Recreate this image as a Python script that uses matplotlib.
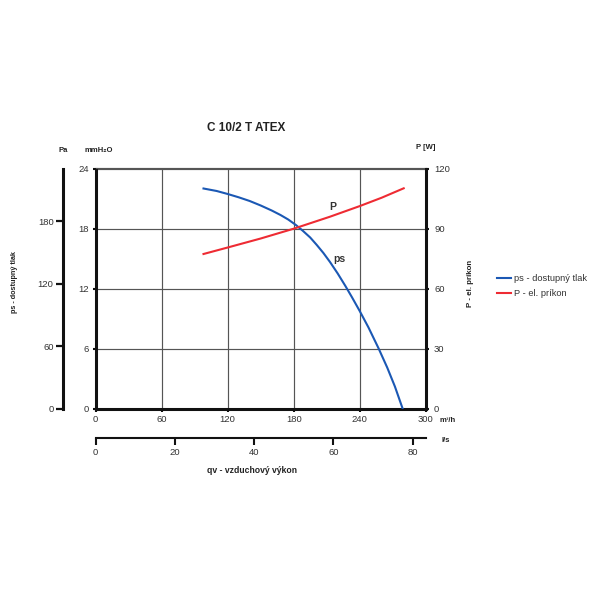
import matplotlib
matplotlib.use("Agg")
import matplotlib.pyplot as plt

plt.rcParams['font.family'] = ['Liberation Sans', 'DejaVu Sans']

# ---- data ----
q_ps = [98, 110, 120, 130, 140, 150, 160, 168, 175, 182, 188, 195, 201, 207,
        213, 220, 227, 233, 240, 248, 257, 265, 272, 279]                        # m3/h
ps_mm = [22.0, 21.75, 21.45, 21.12, 20.75, 20.3, 19.8, 19.35, 18.9, 18.35, 17.8,
         17.1, 16.35, 15.55, 14.65, 13.5, 12.25, 11.12, 9.75, 8.1, 6.05, 4.1, 2.2, 0.0]  # mmH2O
q_p = [98, 120, 150, 180, 213, 240, 260, 280]                                    # m3/h
p_w = [77.25, 80.5, 85.0, 89.9, 95.9, 101.2, 105.4, 110.1]                       # W

x_ticks = [0, 60, 120, 180, 240, 300]
y_ticks = [0, 6, 12, 18, 24]
p_ticks = [0, 30, 60, 90, 120]
pa_ticks = [0, 60, 120, 180]
ls_ticks = [0, 20, 40, 60, 80]

title = "C 10/2 T ATEX"
legend_labels = ["ps - dostupný tlak", "P - el. príkon"]

BLUE = "#1b58b4"
RED = "#ee2b33"
TXT = "#333333"
GRID = "#555555"
TS = 6.8

fig = plt.figure(figsize=(6, 6), dpi=100)
fig.patch.set_facecolor("white")

ax = fig.add_axes([95.7 / 600, 1 - 408.5 / 600, 330 / 600, 240 / 600])
ax.set_xlim(0, 300)
ax.set_ylim(0, 24)
ax.set_xticks(x_ticks)
ax.set_yticks(y_ticks)
ax.grid(True, color=GRID, lw=0.85)
ax.set_axisbelow(True)
for s in ("left", "bottom"):
    ax.spines[s].set_linewidth(2.2)
    ax.spines[s].set_color("#111111")
ax.spines["top"].set_linewidth(0.85)
ax.spines["top"].set_color(GRID)
ax.spines["right"].set_visible(False)
ax.tick_params(labelsize=TS, colors="#111111", labelcolor=TXT, length=2, width=1.5, pad=3)

l1, = ax.plot(q_ps, ps_mm, color=BLUE, lw=1.5, zorder=3, solid_joinstyle="round")

ax2 = ax.twinx()
ax2.set_ylim(0, 120)
ax2.set_yticks(p_ticks)
for s in ("left", "bottom", "top"):
    ax2.spines[s].set_visible(False)
ax2.spines["right"].set_linewidth(2.2)
ax2.spines["right"].set_color("#111111")
ax2.tick_params(labelsize=TS, colors="#111111", labelcolor=TXT, length=2, width=1.5, pad=4)
l2, = ax2.plot(q_p, p_w, color=RED, lw=1.5, zorder=3, solid_joinstyle="round")

# Pa axis (secondary, left)
PA_TOP = 231.0
pa = ax.secondary_yaxis(-0.098, functions=(lambda y: y * PA_TOP / 24.0,
                                           lambda p: p * 24.0 / PA_TOP))
pa.set_yticks(pa_ticks)
pa.spines["left"].set_linewidth(2.2)
pa.spines["left"].set_color("#111111")
pa.tick_params(labelsize=TS, colors="#111111", labelcolor=TXT, length=5, width=1.6, pad=2)

# l/s axis (secondary, bottom)
ls = ax.secondary_xaxis(-0.123, functions=(lambda q: q / 3.6, lambda l: l * 3.6))
ls.set_xticks(ls_ticks)
ls.spines["bottom"].set_linewidth(1.5)
ls.spines["bottom"].set_color("#111111")
ls.tick_params(labelsize=TS, colors="#111111", labelcolor=TXT, length=5, width=1.5, pad=2)

# curve labels
ax.text(215.5, 20.1, "P", fontsize=7.5, fontweight="bold", color=TXT, ha="center", va="center")
ax.text(221.5, 14.9, "ps", fontsize=7.5, fontweight="bold", color=TXT, ha="center", va="center")


def T(x, y, s, **kw):
    fig.text(x / 600, 1 - y / 600, s, ha="center", va="center", **kw)


T(245.7, 128.3, title, fontsize=8.5, fontweight="bold", color="#222222")
T(62.7, 151, "Pa", fontsize=5.5, fontweight="bold", color="#222222")
T(98.3, 151, "mmH₂O", fontsize=5.5, fontweight="bold", color="#222222")
T(425.7, 147.7, "P [W]", fontsize=5.5, fontweight="bold", color="#222222")
T(448, 420.7, "m³/h", fontsize=5.5, fontweight="bold", color="#222222")
T(446, 440.7, "l/s", fontsize=5.5, fontweight="bold", color="#222222")
T(252, 470.7, "qv - vzduchový výkon", fontsize=6.2, fontweight="bold", color="#222222")
T(15, 282, "ps - dostupný tlak", fontsize=5.2, fontweight="bold", color="#222222", rotation=90)
T(471, 283, "P - el. príkon", fontsize=5.7, fontweight="bold", color="#222222", rotation=90)

fig.legend([l1, l2], legend_labels, loc="center left",
           bbox_to_anchor=(497 / 600, 1 - 286 / 600), frameon=False,
           fontsize=6.7, handlelength=1.5, handletextpad=0.3,
           borderpad=0, borderaxespad=0, labelspacing=0.6, labelcolor=TXT)

fig.savefig("out.png", dpi=100, facecolor="white")
